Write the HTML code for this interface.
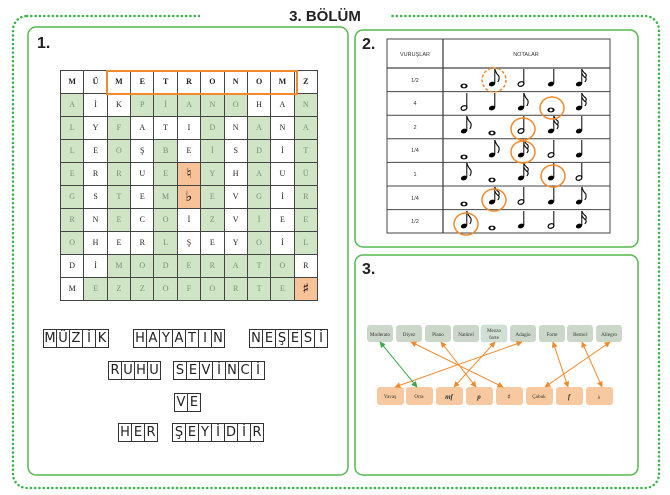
<!DOCTYPE html>
<html><head><meta charset="utf-8"><style>
*{margin:0;padding:0;box-sizing:border-box}
body{width:670px;height:495px;background:#fff;position:relative;overflow:hidden;font-family:"Liberation Sans","DejaVu Sans",sans-serif}
.abs{position:absolute}
table.g{position:absolute;left:60px;top:70px;width:258px;height:230px;border-collapse:collapse;font-family:"Liberation Serif",serif;font-size:8px;table-layout:fixed}
table.g tr{height:23px}
table.g td{border:1px solid #444;text-align:center;color:#222;background:#fff;padding:0;height:23px;line-height:10px;overflow:hidden}
table.g td.g{background:#cfe5c6;color:#7d8c7a}
table.g td.o{background:#f8c298;color:#000;font-size:14px;line-height:10px;font-family:"DejaVu Sans",sans-serif}
table.g tr:first-child td{font-weight:bold}
.w{position:absolute;display:flex}
.w span{display:block;width:14px;height:19px;border:1px solid #333;margin-right:-1px;font-family:"DejaVu Sans",sans-serif;font-size:13px;text-align:center;line-height:18px;color:#222}
</style></head><body>
<svg class="abs" style="left:0;top:0" width="670" height="495">
<rect x="13" y="16" width="646" height="472" rx="14" fill="none" stroke="#3bb34a" stroke-width="2.5" stroke-dasharray="0.1 4.2" stroke-linecap="round"/>
<rect x="200" y="6" width="190" height="20" fill="#fff"/>
<text x="325" y="21" text-anchor="middle" font-family="Liberation Sans" font-weight="bold" font-size="15" fill="#222">3. BÖLÜM</text>
<rect x="28" y="27" width="320" height="448" rx="8" fill="none" stroke="#55b94f" stroke-width="1.5"/>
<rect x="355" y="30" width="283" height="217" rx="8" fill="none" stroke="#55b94f" stroke-width="1.5"/>
<rect x="355" y="255" width="283" height="220" rx="8" fill="none" stroke="#55b94f" stroke-width="1.5"/>
<text x="37" y="48" font-weight="bold" font-size="16" fill="#222">1.</text>
<text x="362" y="49" font-weight="bold" font-size="16" fill="#222">2.</text>
<text x="362" y="274" font-weight="bold" font-size="16" fill="#222">3.</text>
<defs>
<g id="w"><ellipse rx="3.6" ry="2.4" fill="#000"/><ellipse rx="1.6" ry="1.4" fill="#fff"/></g>
<g id="h"><ellipse rx="3" ry="2.2" transform="rotate(-20)" fill="none" stroke="#000" stroke-width="1.2"/><line x1="2.8" y1="-0.5" x2="2.8" y2="-15" stroke="#000"/></g>
<g id="q"><ellipse rx="3.2" ry="2.3" transform="rotate(-20)" fill="#000"/><line x1="2.8" y1="-0.5" x2="2.8" y2="-15" stroke="#000"/></g>
<g id="e"><use href="#q"/><path d="M2.8,-15 q1,4 4,7 q1,3 -1,6" fill="none" stroke="#000" stroke-width="1.1"/></g>
<g id="s"><use href="#q"/><path d="M2.8,-15 q1,3 4,5 q1,2 -0.5,4 M2.8,-11 q1,3 4,5 q1,2 -1,4" fill="none" stroke="#000" stroke-width="1.1"/></g>
<marker id="ao" viewBox="0 0 10 10" refX="9" refY="5" markerWidth="6" markerHeight="6" orient="auto-start-reverse"><path d="M0,0L10,5L0,10z" fill="#f08a2c"/></marker>
<marker id="ag" viewBox="0 0 10 10" refX="9" refY="5" markerWidth="6" markerHeight="6" orient="auto-start-reverse"><path d="M0,0L10,5L0,10z" fill="#3aa84a"/></marker>
</defs>
<g stroke="#444" fill="none" stroke-width="1">
<rect x="387" y="39" width="223" height="194"/>
<line x1="443" y1="39" x2="443" y2="233" stroke-width="1.3"/>
<line x1="387" y1="68" x2="610" y2="68" stroke-width="1.3"/>
<line x1="387" y1="91.6" x2="610" y2="91.6"/><line x1="387" y1="115.2" x2="610" y2="115.2"/><line x1="387" y1="138.8" x2="610" y2="138.8"/><line x1="387" y1="162.4" x2="610" y2="162.4"/><line x1="387" y1="186" x2="610" y2="186"/><line x1="387" y1="209.6" x2="610" y2="209.6"/>
</g>
<g font-size="5.5" fill="#333" text-anchor="middle">
<text x="415" y="56">VURUŞLAR</text><text x="526" y="56">NOTALAR</text>
<text x="415" y="82">1/2</text><text x="415" y="105">4</text><text x="415" y="129">2</text><text x="415" y="152">1/4</text><text x="415" y="176">1</text><text x="415" y="200">1/4</text><text x="415" y="223">1/2</text>
</g>
<g>
<use href="#w" x="464" y="86"/><use href="#e" x="492" y="84"/><use href="#h" x="521" y="84"/><use href="#q" x="551" y="84"/><use href="#s" x="579" y="84"/>
<use href="#h" x="464" y="108"/><use href="#q" x="492" y="108"/><use href="#e" x="521" y="108"/><use href="#w" x="551" y="110"/><use href="#s" x="579" y="108"/>
<use href="#e" x="464" y="131"/><use href="#w" x="492" y="133"/><use href="#h" x="521" y="131"/><use href="#s" x="551" y="131"/><use href="#q" x="579" y="131"/>
<use href="#w" x="464" y="157"/><use href="#e" x="492" y="155"/><use href="#s" x="521" y="155"/><use href="#h" x="551" y="155"/><use href="#q" x="579" y="155"/>
<use href="#e" x="464" y="178"/><use href="#w" x="492" y="180"/><use href="#s" x="521" y="178"/><use href="#q" x="551" y="178"/><use href="#h" x="579" y="178"/>
<use href="#w" x="464" y="204"/><use href="#s" x="492" y="202"/><use href="#h" x="521" y="202"/><use href="#q" x="551" y="202"/><use href="#e" x="579" y="202"/>
<use href="#e" x="464" y="226"/><use href="#w" x="492" y="228"/><use href="#q" x="521" y="226"/><use href="#h" x="551" y="226"/><use href="#s" x="579" y="226"/>
</g>
<g fill="none" stroke="#f08a2c" stroke-width="1.5">
<ellipse cx="494" cy="80" rx="12" ry="12" stroke-dasharray="3 2"/>
<ellipse cx="552" cy="108" rx="12" ry="11"/>
<ellipse cx="523" cy="129" rx="12" ry="11"/>
<ellipse cx="523" cy="152" rx="12" ry="11"/>
<ellipse cx="553" cy="176" rx="12" ry="11"/>
<ellipse cx="494" cy="200" rx="12" ry="11"/>
<ellipse cx="466" cy="224" rx="12" ry="11"/>
</g>
<g fill="#cbd8c9">
<rect x="367" y="325" width="26" height="17" rx="3"/><rect x="396" y="325" width="26" height="17" rx="3"/><rect x="425" y="325" width="26" height="17" rx="3"/><rect x="453" y="325" width="26" height="17" rx="3"/><rect x="481" y="325" width="26" height="17" rx="3" fill="#d2e0d4" stroke="#bde" stroke-width="0.6"/><rect x="510" y="325" width="26" height="17" rx="3"/><rect x="539" y="325" width="26" height="17" rx="3"/><rect x="567" y="325" width="26" height="17" rx="3"/><rect x="596" y="325" width="26" height="17" rx="3"/>
</g>
<g fill="#f8c9a0">
<rect x="377" y="387" width="27" height="18" rx="3"/><rect x="406" y="387" width="27" height="18" rx="3"/><rect x="436" y="387" width="27" height="18" rx="3"/><rect x="466" y="387" width="27" height="18" rx="3"/><rect x="496" y="387" width="27" height="18" rx="3"/><rect x="526" y="387" width="27" height="18" rx="3"/><rect x="556" y="387" width="27" height="18" rx="3"/><rect x="586" y="387" width="27" height="18" rx="3"/>
</g>
<g font-family="Liberation Serif" font-size="5.2" fill="#333" text-anchor="middle">
<text x="380" y="336">Moderato</text><text x="409" y="336">Diyez</text><text x="438" y="336">Piano</text><text x="466" y="336">Natürel</text><text x="494" y="332">Mezzo</text><text x="494" y="339">forte</text><text x="523" y="336">Adagio</text><text x="552" y="336">Forte</text><text x="580" y="336">Bemol</text><text x="609" y="336">Allegro</text>
<text x="390" y="398">Yavaş</text><text x="419" y="398">Orta</text><text x="449" y="399" font-style="italic" font-weight="bold" font-size="7">mf</text><text x="479" y="399" font-style="italic" font-weight="bold" font-size="7">p</text><text x="509" y="399" font-family="DejaVu Sans" font-size="7">♯</text><text x="539" y="398">Çabuk</text><text x="569" y="399" font-style="italic" font-weight="bold" font-size="7">f</text><text x="599" y="399" font-family="DejaVu Sans" font-size="7">♭</text>
</g>
<g stroke="#f08a2c" stroke-width="1" marker-start="url(#ao)" marker-end="url(#ao)">
<line x1="411" y1="342" x2="503" y2="387"/>
<line x1="441" y1="342" x2="476" y2="387"/>
<line x1="495" y1="342" x2="454" y2="387"/>
<line x1="522" y1="342" x2="395" y2="387"/>
<line x1="553" y1="342" x2="568" y2="387"/>
<line x1="582" y1="342" x2="602" y2="387"/>
<line x1="610" y1="342" x2="545" y2="387"/>
</g>
<line x1="380" y1="342" x2="417" y2="387" stroke="#3aa84a" stroke-width="1" marker-start="url(#ag)" marker-end="url(#ag)"/>
</svg>
<table class="g">
<tr><td>M</td><td>Ü</td><td>M</td><td>E</td><td>T</td><td>R</td><td>O</td><td>N</td><td>O</td><td>M</td><td>Z</td></tr>
<tr><td class="g">A</td><td>İ</td><td>K</td><td class="g">P</td><td class="g">İ</td><td class="g">A</td><td class="g">N</td><td class="g">O</td><td>H</td><td>A</td><td class="g">N</td></tr>
<tr><td class="g">L</td><td>Y</td><td class="g">F</td><td>A</td><td>T</td><td>I</td><td class="g">D</td><td>N</td><td class="g">A</td><td>N</td><td class="g">A</td></tr>
<tr><td class="g">L</td><td>E</td><td class="g">O</td><td>Ş</td><td class="g">B</td><td>E</td><td class="g">İ</td><td>S</td><td class="g">D</td><td>İ</td><td class="g">T</td></tr>
<tr><td class="g">E</td><td>R</td><td class="g">R</td><td>U</td><td class="g">E</td><td class="o">♮</td><td class="g">Y</td><td>H</td><td class="g">A</td><td>U</td><td class="g">Ü</td></tr>
<tr><td class="g">G</td><td>S</td><td class="g">T</td><td>E</td><td class="g">M</td><td class="o">♭</td><td class="g">E</td><td>V</td><td class="g">G</td><td>İ</td><td class="g">R</td></tr>
<tr><td class="g">R</td><td>N</td><td class="g">E</td><td>C</td><td class="g">O</td><td>İ</td><td class="g">Z</td><td>V</td><td class="g">İ</td><td>E</td><td class="g">E</td></tr>
<tr><td class="g">O</td><td>H</td><td>E</td><td>R</td><td class="g">L</td><td>Ş</td><td>E</td><td>Y</td><td class="g">O</td><td>İ</td><td class="g">L</td></tr>
<tr><td>D</td><td>İ</td><td class="g">M</td><td class="g">O</td><td class="g">D</td><td class="g">E</td><td class="g">R</td><td class="g">A</td><td class="g">T</td><td class="g">O</td><td>R</td></tr>
<tr><td>M</td><td class="g">E</td><td class="g">Z</td><td class="g">Z</td><td class="g">O</td><td class="g">F</td><td class="g">O</td><td class="g">R</td><td class="g">T</td><td class="g">E</td><td class="o">♯</td></tr>
</table>
<div class="abs" style="left:106px;top:70px;width:192px;height:25px;border:2px solid #f08a2c"></div>
<div class="w" style="left:43px;top:329px"><span>M</span><span>Ü</span><span>Z</span><span>İ</span><span>K</span></div>
<div class="w" style="left:133px;top:329px"><span>H</span><span>A</span><span>Y</span><span>A</span><span>T</span><span>I</span><span>N</span></div>
<div class="w" style="left:249px;top:329px"><span>N</span><span>E</span><span>Ş</span><span>E</span><span>S</span><span>İ</span></div>
<div class="w" style="left:108px;top:361px"><span>R</span><span>U</span><span>H</span><span>U</span></div>
<div class="w" style="left:173px;top:361px"><span>S</span><span>E</span><span>V</span><span>İ</span><span>N</span><span>C</span><span>İ</span></div>
<div class="w" style="left:174px;top:393px"><span>V</span><span>E</span></div>
<div class="w" style="left:118px;top:423px"><span>H</span><span>E</span><span>R</span></div>
<div class="w" style="left:172px;top:423px"><span>Ş</span><span>E</span><span>Y</span><span>İ</span><span>D</span><span>İ</span><span>R</span></div>
</body></html>
